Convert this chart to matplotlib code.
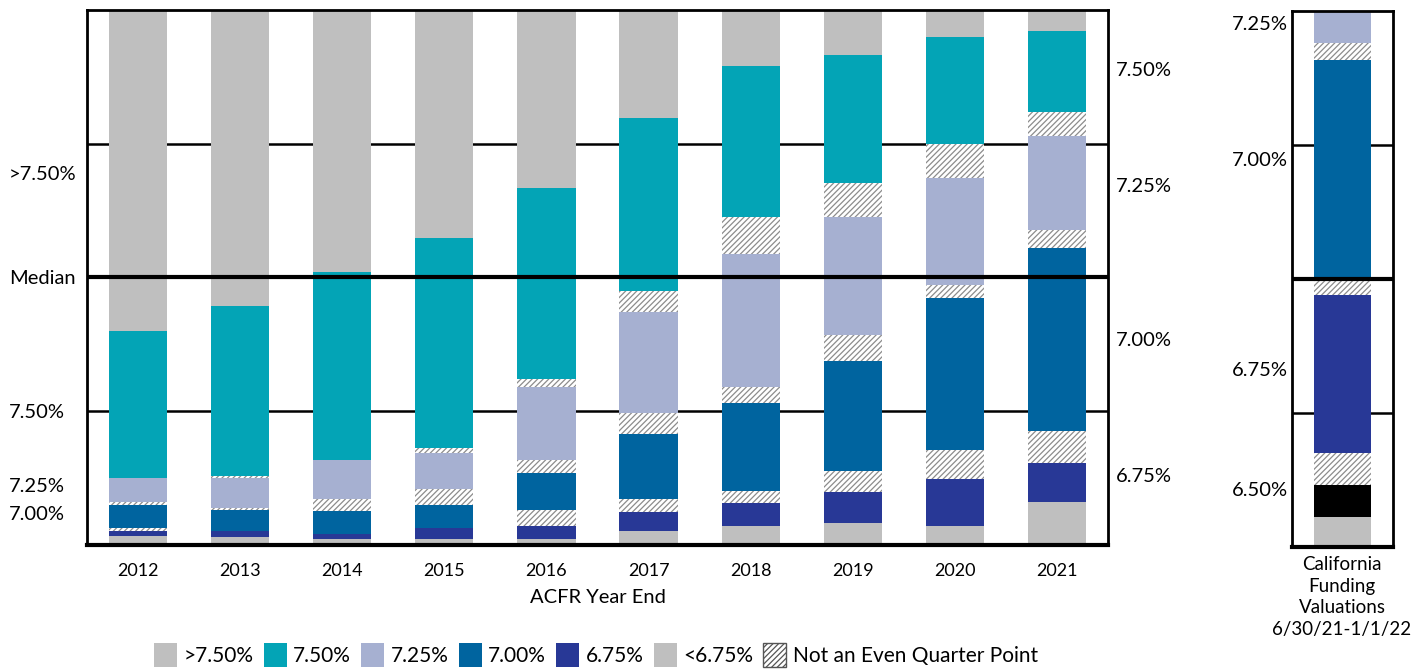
import numpy as np
import matplotlib
matplotlib.use('Agg')
import matplotlib.pyplot as plt
from matplotlib.patches import Patch

plt.rcParams['font.family'] = ['Lato', 'DejaVu Sans']
plt.rcParams['hatch.linewidth'] = 0.9

years = ['2012', '2013', '2014', '2015', '2016', '2017', '2018', '2019', '2020', '2021']

# share of plans (%) in each assumption bucket, stacked bottom -> top
below_675 = [1.7, 1.55, 1.07, 1.12, 1.07, 2.62, 3.6, 4.11, 3.6, 7.98]
r675 = [1.0, 1.07, 1.0, 2.0, 2.54, 3.55, 4.3, 5.85, 8.73, 7.4]
odd_675_700 = [0.45, 0, 0, 0, 2.88, 2.37, 2.19, 3.87, 5.42, 5.93]
r700 = [4.4, 3.87, 4.36, 4.36, 6.92, 12.26, 16.5, 20.56, 28.35, 34.15]
odd_700_725 = [0.5, 0.43, 2.13, 2.99, 2.49, 3.87, 2.93, 4.86, 2.49, 3.42]
r725 = [4.4, 5.55, 7.35, 6.73, 13.6, 18.93, 24.9, 22.06, 19.94, 17.57]
odd_725_750 = [0, 0.43, 0, 1.0, 1.55, 3.87, 6.86, 6.3, 6.36, 4.49]
r750 = [27.5, 31.8, 35.14, 39.2, 35.7, 32.3, 28.2, 23.98, 20.06, 15.14]
above_750 = [60.2, 55.3, 48.97, 42.6, 33.3, 20.2, 10.5, 8.41, 5.05, 3.93]

# California funding valuations, bottom -> top
ca_labels = ['<6.50%', '6.50%', 'odd', '6.75%', 'odd', '7.00%', 'odd', '7.25%']
ca_values = [5.6, 5.85, 5.93, 29.5, 3.36, 40.7, 3.07, 6.0]

GRAY = '#bfbfbf'
TEAL = '#03a4b6'
LAV = '#a6b0d1'
BLUE = '#00649f'
DBLUE = '#283896'
HATCH_C = '#8c8c8c'

style = {
    'gray': dict(color=GRAY),
    'teal': dict(color=TEAL),
    'lav': dict(color=LAV),
    'blue': dict(color=BLUE),
    'dblue': dict(color=DBLUE),
    'black': dict(color='black'),
    'odd': dict(facecolor='white', edgecolor=HATCH_C, hatch='//////'),
}

fig = plt.figure(figsize=(14.14, 6.69), dpi=100)
ax = fig.add_axes([87 / 1414, 1 - 545 / 669, 1021 / 1414, 535 / 669])
ax2 = fig.add_axes([1292 / 1414, 1 - 546.5 / 669, 100.6 / 1414, 535.5 / 669])

x = np.arange(len(years))
w = 0.57
series = [(below_675, 'gray'), (r675, 'dblue'), (odd_675_700, 'odd'), (r700, 'blue'),
          (odd_700_725, 'odd'), (r725, 'lav'), (odd_725_750, 'odd'), (r750, 'teal'),
          (above_750, 'gray')]
bottom = np.zeros(len(years))
for vals, key in series:
    ax.bar(x, vals, w, bottom=bottom, linewidth=0, zorder=2, **style[key])
    bottom += np.array(vals)

ca_keys = ['gray', 'black', 'odd', 'dblue', 'odd', 'blue', 'odd', 'lav']
b = 0
for v, key in zip(ca_values, ca_keys):
    ax2.bar([0], [v], w, bottom=b, linewidth=0, zorder=2, **style[key])
    b += v

for a in (ax, ax2):
    a.set_ylim(0, 100)
    a.axhline(25, color='black', lw=1.8, zorder=1)
    a.axhline(75, color='black', lw=1.8, zorder=1)
    a.axhline(50, color='black', lw=3, zorder=3)
    for s in ['left', 'right', 'top']:
        a.spines[s].set_linewidth(2)
    a.spines['bottom'].set_linewidth(3)
    a.set_yticks([])

ax.set_xlim(-0.5, len(years) - 0.5)
ax.set_xticks(x)
ax.set_xticklabels(years, fontsize=13)
ax.tick_params(axis='x', length=0, pad=13)
ax.set_xlabel('ACFR Year End', fontsize=14.5, labelpad=7)

ax2.set_xlim(-0.5, 0.5)
ax2.set_xticks([])

def fy(py):
    return 1 - py / 669

fs = 14.5
# left labels
for txt, py in [('>7.50%', 175), ('Median', 278), ('7.50%', 412), ('7.25%', 487), ('7.00%', 514)]:
    fig.text(9 / 1414, fy(py), txt, fontsize=fs, ha='left', va='center')
# labels between panels
for txt, py in [('7.50%', 70), ('7.25%', 187), ('7.00%', 340), ('6.75%', 477)]:
    fig.text(1116 / 1414, fy(py), txt, fontsize=fs, ha='left', va='center')
for txt, py in [('7.25%', 25), ('7.00%', 160), ('6.75%', 370), ('6.50%', 490)]:
    fig.text(1288 / 1414, fy(py), txt, fontsize=fs, ha='right', va='center')

fig.text(1342 / 1414, fy(597), 'California\nFunding\nValuations\n6/30/21-1/1/22',
         fontsize=13.5, ha='center', va='center', linespacing=1.35)

handles = [Patch(facecolor=GRAY), Patch(facecolor=TEAL), Patch(facecolor=LAV),
           Patch(facecolor=BLUE), Patch(facecolor=DBLUE), Patch(facecolor=GRAY),
           Patch(facecolor='white', edgecolor='#555555', hatch='//////')]
labels = ['>7.50%', '7.50%', '7.25%', '7.00%', '6.75%', '<6.75%', 'Not an Even Quarter Point']
fig.legend(handles, labels, loc='center', bbox_to_anchor=(596 / 1414, fy(655)), ncol=7,
           frameon=False, fontsize=15, handlelength=1.1, handleheight=1.4,
           handletextpad=0.3, columnspacing=0.5)

fig.savefig('out.png', dpi=100)
